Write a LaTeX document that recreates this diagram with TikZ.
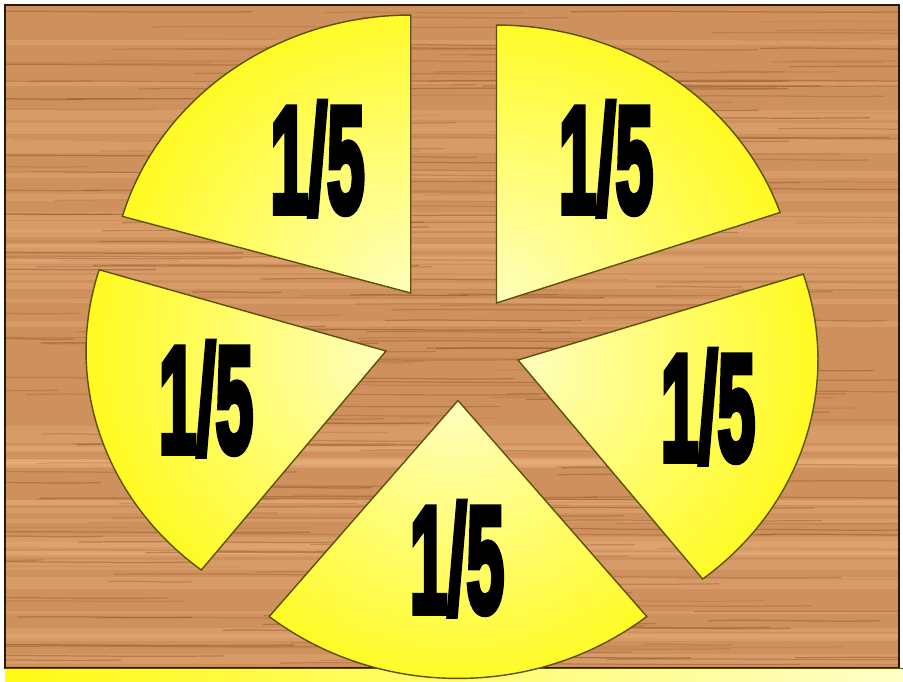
\documentclass[tikz,border=0pt]{standalone}
\usepackage{fontspec}
\usepackage{graphicx}
\newfontfamily\fracfont{Liberation Sans}[BoldFeatures={FakeBold=5}]

\definecolor{wood}{RGB}{206,144,92}
\definecolor{grain}{RGB}{135,72,32}
\definecolor{woodlight}{RGB}{232,178,128}
\definecolor{framecol}{RGB}{40,25,15}
\definecolor{sliceyellow}{RGB}{255,250,20}
\definecolor{slicepale}{RGB}{255,255,190}
\definecolor{sliceline}{RGB}{95,80,10}
\definecolor{barpale}{RGB}{255,255,200}

\tikzset{
  slice/.style={draw=sliceline, line width=0.8pt},
  fraclabel/.style={anchor=base, inner sep=0pt, text=black,
    font=\fracfont\bfseries\fontsize{86}{86}\selectfont},
}

\begin{document}
\begin{tikzpicture}[x=0.02cm, y=0.02cm]
    \useasboundingbox (0,0) rectangle (903,681);

    % wooden table
    \fill[wood] (5,13) rectangle (899,676);
    \begin{scope}
        \clip (5,13) rectangle (899,676);
        \pgfmathsetseed{11}
        \foreach \i in {1,...,45}{
            \pgfmathsetmacro{\gy}{13+rnd*663}
            \pgfmathsetmacro{\gh}{3+rnd*8}
            \fill[woodlight, opacity=0.35] (5,\gy) rectangle (899,\gy+\gh);
        }
        \foreach \i in {1,...,300}{
            \pgfmathsetmacro{\gy}{13+rnd*663}
            \pgfmathsetmacro{\gx}{-100+rnd*900}
            \pgfmathsetmacro{\gl}{80+rnd*320}
            \pgfmathsetmacro{\go}{0.1+0.35*rnd}
            \draw[grain, opacity=\go, line width=0.7pt]
                (\gx,\gy) .. controls (\gx+\gl/3,\gy+1.5) and (\gx+2*\gl/3,\gy-1.5) .. (\gx+\gl,\gy);
        }
    \end{scope}
    \draw[framecol, line width=0.8pt] (5,13) rectangle (899,676);

    % yellow strip at the bottom
    \shade[left color=sliceyellow, right color=barpale] (5,0) rectangle (903,13);
    \draw[sliceline] (5,13) -- (903,13);

    % five slices of the pie
    \foreach \n/\ax/\ay/\sa/\ea in {TL/410.7/388/90/164, TR/496.5/378/19/90,
        R/518/321/-52/18, B/458/280.5/-129/-51, L/386/330/163/232}{
        \coordinate (apex\n) at (\ax,\ay);
        \path[slice, path picture={
                \shade[inner color=slicepale, outer color=sliceyellow] (apex\n) circle (6.4cm);}]
            (apex\n) -- ++(\sa:6cm and 5.56cm)
            arc[start angle=\sa, end angle=\ea, x radius=6cm, y radius=5.56cm] -- cycle;
    }

    % labels
    \foreach \n/\lx/\ly in {TL/317.5/469, TR/606/469, L/206/229, R/708/221, B/457/69}
        \node[fraclabel] (lbl\n) at (\lx,\ly) {\scalebox{0.45}[1]{1/5}};
\end{tikzpicture}
\end{document}
